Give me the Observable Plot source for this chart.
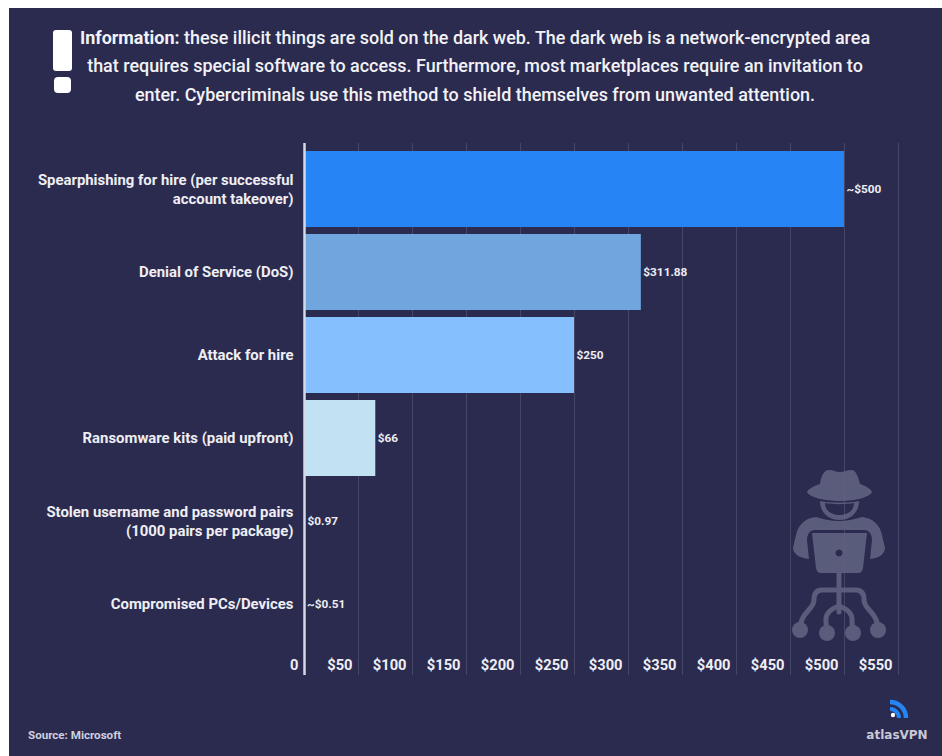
<!DOCTYPE html>
<html>
<head>
<meta charset="utf-8">
<script src="https://cdn.jsdelivr.net/npm/d3@7"></script>
<script src="https://cdn.jsdelivr.net/npm/@observablehq/plot@0.6"></script>
<style>
  html, body { margin: 0; padding: 0; background: #fff; }
  #page { position: relative; width: 942px; height: 756px; overflow: hidden; background: #fff; font-family: Roboto, sans-serif; }
  #panel { position: absolute; left: 9px; top: 8px; width: 933px; height: 748px; background: #2b2b50; }
  #chart { position: absolute; left: 0; top: 0; }
  #chart svg { display: block; background: transparent; }
  #notice { position: absolute; left: 60px; top: 23.5px; width: 830px; margin: 0; color: #f2f2f6; font-size: 17.95px; line-height: 28.5px; font-weight: 500; text-align: center; }
  #notice b { font-weight: 700; }
  #source { position: absolute; left: 28px; top: 728px; color: #cfcfde; font-size: 11.6px; font-weight: 700; }
  #brand { position: absolute; left: 862px; top: 728px; width: 70px; text-align: center; color: #c9c9d6; font: 700 12px "DejaVu Sans", sans-serif; }
  .deco { position: absolute; left: 0; top: 0; pointer-events: none; }
</style>
</head>
<body>
<div id="page">
  <div id="panel"></div>
  <div id="chart"></div>
  <!-- Warning sign beside the note -->
  <svg class="deco" width="942" height="756">
    <rect x="53" y="30" width="19" height="41" rx="3" fill="#fff"/>
    <rect x="54" y="77" width="17" height="16" rx="4" fill="#fff"/>
  </svg>
  <p id="notice"><b>Information:</b> these illicit things are sold on the dark web. The dark web is a network-encrypted area<br>that requires special software to access. Furthermore, most marketplaces require an invitation to<br>enter. Cybercriminals use this method to shield themselves from unwanted attention.</p>
  <!-- Hooded hacker at a laptop -->
  <svg class="deco" width="942" height="756">
    <g opacity="0.92">
      <g fill="#5f617f">
        <path d="M820 484 C821 476 824 470 829 470 C833 470 836 472 840 472 C844 472 847 470 851 470 C856 470 858 476 860 484 C866 486 871 489 872 492 C870 497 856 501 840 501 C824 501 809 497 807 492 C808 489 814 486 820 484Z"/>
        <path fill-rule="evenodd" d="M820 501 C830 503 850 503 859 501 C859 513 850 520 839.5 520 C829 520 820 513 820 501Z M825 503 C825 511 832 515 839.5 515 C847 515 854 511 854 503 C846 504.5 833 504.5 825 503Z"/>
        <path d="M816 517 C805 518 798 525 796 535 L793 548 C793 554 800 558 809 559 L807 540 C807 534 810 530 815 530 L864 530 C869 530 872 534 872 540 L870 559 C879 558 885 554 885 548 L882 535 C880 525 873 518 862 517 C855 519 848 521 839 521 C830 521 823 519 816 517Z"/>
        <path fill-rule="evenodd" d="M812 533 L867 533 L863 568 C862.500 571 861 573 858 573 L821 573 C818 573 816.500 571 816 568Z M839 549.500 a3.500 3.500 0 1 0 .01 0Z"/>
        <circle cx="800" cy="630" r="8"/><circle cx="827" cy="633" r="8"/><circle cx="853" cy="633" r="8"/><circle cx="878" cy="630" r="8"/>
      </g>
      <g fill="none" stroke="#5f617f" stroke-width="5" stroke-linecap="round" stroke-linejoin="round">
        <path d="M839 573 V612"/>
        <path d="M839 590 H822 C816 590 814 594 814 600 C814 610 800 612 800 630"/>
        <path d="M839 590 H856 C862 590 864 594 864 600 C864 610 878 612 878 630"/>
        <path d="M839 606 C830 609 825 614 826 622 L827 633"/>
        <path d="M839 606 C848 609 853 614 852 622 L853 633"/>
      </g>
    </g>
  </svg>
  <div id="source">Source: Microsoft</div>
  <!-- Brand mark -->
  <svg class="deco" width="942" height="756">
    <path d="M890 702 A16 16 0 0 1 906 718" fill="none" stroke="#2684f5" stroke-width="4.500"/>
    <path d="M890 709 A9 9 0 0 1 899 718" fill="none" stroke="#2684f5" stroke-width="4"/>
    <circle cx="893" cy="715" r="2.200" fill="#fff"/>
  </svg>
  <div id="brand">atlasVPN</div>
</div>
<script>
  // Price of cybercrime services on the dark web, in US dollars.
  const services = [
    "Spearphishing for hire (per successful\naccount takeover)",
    "Denial of Service (DoS)",
    "Attack for hire",
    "Ransomware kits (paid upfront)",
    "Stolen username and password pairs\n(1000 pairs per package)",
    "Compromised PCs/Devices"
  ];
  const prices = [500, 311.88, 250, 66, 0.97, 0.51];
  const priceLabels = ["~$500", "$311.88", "$250", "$66", "$0.97", "~$0.51"];
  const barColors = ["#2684f5", "#6fa6de", "#85bffd", "#c2e2f3", "#c2e2f3", "#c2e2f3"];
  const priceTicks = [0, 50, 100, 150, 200, 250, 300, 350, 400, 450, 500, 550];

  const rows = services.map((service, i) => ({
    service, price: prices[i], label: priceLabels[i], color: barColors[i]
  }));

  const chart = Plot.plot({
    width: 942,
    height: 756,
    marginTop: 143,
    marginBottom: 81,
    marginLeft: 304,
    marginRight: 44,
    style: { background: "transparent", fontFamily: "Roboto, sans-serif" },
    x: { domain: [0, 550], axis: null },
    y: { domain: services, range: [144, 649.5], padding: 0.09, align: 0.5, axis: null },
    marks: [
      Plot.ruleX(priceTicks.slice(1), { stroke: "#ffffff", strokeOpacity: 0.13, strokeWidth: 1 }),
      Plot.barX(rows, { x: "price", y: "service", fill: "color" }),
      Plot.ruleX([0], { stroke: "#d5d8e6", strokeWidth: 2.5 }),
      Plot.text(rows, {
        x: "price", y: "service", text: "label", dx: 2, dy: -0.5, textAnchor: "start",
        fill: "#eeeef3", fontSize: 11.8, fontWeight: 700
      }),
      Plot.axisY({
        anchor: "left", tickSize: 0, tickPadding: 11, label: null, dy: -1.5,
        color: "#eeeef3", fontSize: 14.9, fontWeight: 700, lineHeight: 1.27
      }),
      Plot.text(priceTicks, {
        x: d => d, frameAnchor: "bottom", dy: -6, dx: -6, textAnchor: "end",
        text: d => d === 0 ? "0" : `$${d}`,
        fill: "#eeeef3", fontSize: 14.7, fontWeight: 700
      })
    ]
  });
  document.getElementById("chart").append(chart);
</script>
</body>
</html>
